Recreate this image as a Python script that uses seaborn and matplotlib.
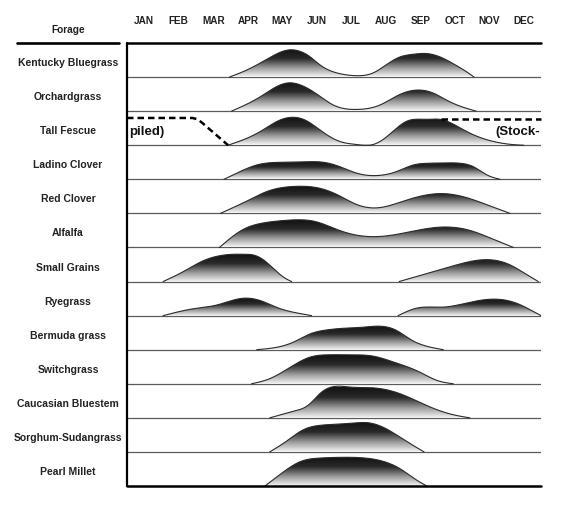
import numpy as np
import pandas as pd
import matplotlib
matplotlib.use("Agg")
import matplotlib.pyplot as plt
import seaborn as sns
from matplotlib.patches import Polygon
from matplotlib.colors import LinearSegmentedColormap
from matplotlib.lines import Line2D
from matplotlib.transforms import blended_transform_factory

# month labels, x = month index (0 = Jan 1, 12 = Dec 31)
months = ["JAN", "FEB", "MAR", "APR", "MAY", "JUN",
          "JUL", "AUG", "SEP", "OCT", "NOV", "DEC"]

forages = ["Kentucky Bluegrass", "Orchardgrass", "Tall Fescue", "Ladino Clover",
           "Red Clover", "Alfalfa", "Small Grains", "Ryegrass", "Bermuda grass",
           "Switchgrass", "Caucasian Bluestem", "Sorghum-Sudangrass", "Pearl Millet"]

# growth curves: month position, relative height in row
kentucky_x = [2.97, 3.5, 4.1, 4.72, 5.0, 5.3, 5.59, 6.17, 6.66, 7.13, 7.5, 7.91, 8.3, 8.69, 9.1, 9.46, 9.85, 10.06]
kentucky_h = [0, 0.22, 0.55, 0.80, 0.76, 0.60, 0.36, 0.10, 0.04, 0.12, 0.35, 0.59, 0.67, 0.69, 0.58, 0.39, 0.15, 0]

orchard_x = [3.03, 3.86, 4.3, 4.68, 5.05, 5.4, 5.98, 6.66, 7.33, 7.91, 8.44, 8.9, 9.27, 9.7, 10.12]
orchard_h = [0, 0.42, 0.70, 0.83, 0.76, 0.57, 0.18, 0.05, 0.18, 0.49, 0.62, 0.52, 0.32, 0.13, 0]

fescue_x = [2.93, 3.86, 4.35, 4.77, 5.2, 5.59, 6.17, 6.66, 7.13, 7.53, 8.1, 8.69, 9.07, 9.85, 10.62, 11.3, 11.5]
fescue_h = [0, 0.40, 0.70, 0.82, 0.72, 0.45, 0.11, 0.02, 0.02, 0.25, 0.70, 0.76, 0.76, 0.40, 0.11, 0.01, 0]

ladino_x = [2.81, 3.18, 3.76, 4.53, 5.1, 5.69, 6.17, 6.66, 7.24, 7.82, 8.3, 8.7, 9.2, 9.67, 10.04, 10.43, 10.81]
ladino_h = [0, 0.18, 0.42, 0.50, 0.51, 0.50, 0.37, 0.18, 0.11, 0.23, 0.42, 0.47, 0.48, 0.47, 0.37, 0.13, 0]

red_clover_x = [2.71, 3.57, 4.05, 4.82, 5.69, 6.17, 6.66, 7.33, 8.01, 9.17, 9.85, 10.52, 11.1]
red_clover_h = [0, 0.41, 0.64, 0.79, 0.71, 0.51, 0.26, 0.17, 0.36, 0.58, 0.46, 0.22, 0]

alfalfa_x = [2.68, 3.37, 3.9, 4.53, 5.5, 6.08, 6.66, 7.43, 8.4, 9.17, 9.94, 10.62, 11.2]
alfalfa_h = [0, 0.53, 0.71, 0.79, 0.75, 0.53, 0.36, 0.33, 0.50, 0.60, 0.50, 0.24, 0]

grains_spring_x = [1.05, 1.63, 2.21, 2.70, 3.08, 3.4, 3.66, 3.95, 4.34, 4.63, 4.77]
grains_spring_h = [0, 0.29, 0.61, 0.76, 0.80, 0.80, 0.78, 0.64, 0.29, 0.07, 0]
grains_fall_x = [7.89, 8.88, 9.56, 10.33, 11.1, 11.59, 11.92]
grains_fall_h = [0, 0.29, 0.49, 0.64, 0.49, 0.20, 0]

rye_spring_x = [1.05, 1.92, 2.6, 3.37, 3.95, 4.34, 4.82, 5.35]
rye_spring_h = [0, 0.20, 0.31, 0.51, 0.41, 0.24, 0.10, 0]
rye_fall_x = [7.86, 8.4, 9.17, 9.94, 10.52, 11.3, 11.78, 12.0]
rye_fall_h = [0, 0.22, 0.25, 0.39, 0.48, 0.36, 0.12, 0]

bermuda_x = [3.76, 4.34, 4.82, 5.3, 5.79, 6.3, 6.85, 7.33, 7.82, 8.2, 8.69, 9.17]
bermuda_h = [0, 0.07, 0.22, 0.46, 0.58, 0.63, 0.66, 0.69, 0.56, 0.31, 0.10, 0]

switch_x = [3.61, 4.14, 4.82, 5.3, 5.79, 6.45, 7.14, 7.72, 8.49, 8.98, 9.46]
switch_h = [0, 0.15, 0.54, 0.78, 0.85, 0.85, 0.81, 0.64, 0.34, 0.10, 0]

bluestem_x = [4.14, 4.82, 5.3, 5.59, 5.88, 6.5, 7.14, 7.91, 8.69, 9.46, 9.94]
bluestem_h = [0, 0.19, 0.41, 0.71, 0.89, 0.90, 0.88, 0.71, 0.36, 0.09, 0]

sorghum_x = [4.14, 4.63, 5.11, 5.59, 6.2, 6.75, 6.95, 7.53, 8.01, 8.61]
sorghum_h = [0, 0.32, 0.65, 0.78, 0.82, 0.86, 0.86, 0.67, 0.37, 0]

millet_x = [4.0, 4.53, 5.01, 5.59, 6.1, 6.56, 7.33, 7.91, 8.4, 8.69]
millet_h = [0, 0.41, 0.71, 0.82, 0.84, 0.84, 0.75, 0.51, 0.17, 0]

# tall fescue stockpiled period (dashed)
stock_left_x = [0, 1.9, 2.05, 2.2, 2.93]
stock_left_h = [0.80, 0.80, 0.76, 0.64, 0.0]
stock_right_x = [9.09, 12.0]
stock_right_h = [0.77, 0.77]

humps = [
    (0, kentucky_x, kentucky_h), (1, orchard_x, orchard_h), (2, fescue_x, fescue_h),
    (3, ladino_x, ladino_h), (4, red_clover_x, red_clover_h), (5, alfalfa_x, alfalfa_h),
    (6, grains_spring_x, grains_spring_h), (6, grains_fall_x, grains_fall_h),
    (7, rye_spring_x, rye_spring_h), (7, rye_fall_x, rye_fall_h),
    (8, bermuda_x, bermuda_h), (9, switch_x, switch_h), (10, bluestem_x, bluestem_h),
    (11, sorghum_x, sorghum_h), (12, millet_x, millet_h),
]


def smooth_curve(xk, yk, xs):
    # natural cubic spline through the read points, just for a smooth outline
    xk = np.asarray(xk, float)
    yk = np.asarray(yk, float)
    n = len(xk)
    h = np.diff(xk)
    A = np.zeros((n, n))
    rhs = np.zeros(n)
    A[0, 0] = A[-1, -1] = 1
    for i in range(1, n - 1):
        A[i, i - 1] = h[i - 1]
        A[i, i] = 2 * (h[i - 1] + h[i])
        A[i, i + 1] = h[i]
        rhs[i] = 6 * ((yk[i + 1] - yk[i]) / h[i] - (yk[i] - yk[i - 1]) / h[i - 1])
    M = np.linalg.solve(A, rhs)
    idx = np.clip(np.searchsorted(xk, xs) - 1, 0, n - 2)
    hi = h[idx]
    a = xk[idx + 1] - xs
    b = xs - xk[idx]
    return (M[idx] * a**3 / (6 * hi) + M[idx + 1] * b**3 / (6 * hi)
            + (yk[idx] / hi - M[idx] * hi / 6) * a
            + (yk[idx + 1] / hi - M[idx + 1] * hi / 6) * b)


sns.set_theme(style="white")
plt.rcParams["font.family"] = ["Liberation Sans", "DejaVu Sans"]

W, H = 583, 508
fig = plt.figure(figsize=(W / 100, H / 100), dpi=100)
fig.patch.set_facecolor("white")
ax = fig.add_axes([127 / W, 1 - 486 / H, (541 - 127) / W, (486 - 43) / H])
n_rows = len(forages)

gray_cmap = LinearSegmentedColormap.from_list("fade", ["#f6f6f6", "#9a9a9a", "#2a2a2a", "#121212"])
grad = np.linspace(0, 1, 256).reshape(-1, 1)

row_max = {}
for row, xk, hk in humps:
    row_max[row] = max(row_max.get(row, 0), max(hk))

outline = []
for seg, (row, xk, hk) in enumerate(humps):
    base = n_rows - 1 - row
    xs = np.linspace(xk[0], xk[-1], 300)
    ys = np.clip(smooth_curve(xk, hk, xs), 0, None) + base
    poly = Polygon(np.column_stack([np.r_[xs, xs[-1], xs[0]], np.r_[ys, base, base]]),
                   closed=True, facecolor="none", edgecolor="none")
    ax.add_patch(poly)
    im = ax.imshow(grad, cmap=gray_cmap, origin="lower", aspect="auto",
                   extent=[xk[0], xk[-1], base, base + row_max[row]],
                   interpolation="bilinear", zorder=2)
    im.set_clip_path(poly)
    outline.append(pd.DataFrame({"x": xs, "y": ys, "seg": seg}))

outline = pd.concat(outline, ignore_index=True)
sns.lineplot(data=outline, x="x", y="y", units="seg", estimator=None, sort=False,
             color="#2b2b2b", linewidth=0.8, ax=ax, legend=False, zorder=3)

# row separators
for r in range(1, n_rows):
    ax.axhline(r, xmin=0, xmax=1, color="#5a5a5a", linewidth=0.9, zorder=1)
ax.axhline(n_rows, color="black", linewidth=1.8, zorder=4, clip_on=False)
ax.axhline(0, color="black", linewidth=1.8, zorder=4, clip_on=False)
ax.axvline(0, color="black", linewidth=1.6, zorder=4, clip_on=False)

# stockpiled tall fescue
fescue_base = n_rows - 1 - 2
ax.plot(stock_left_x, np.array(stock_left_h) + fescue_base, color="black",
        linewidth=1.8, dashes=(2.6, 1.6), zorder=4, clip_on=False)
ax.plot(stock_right_x, np.array(stock_right_h) + fescue_base, color="black",
        linewidth=1.8, dashes=(2.6, 1.6), zorder=4, clip_on=False)
ax.text(0.05, fescue_base + 0.40, "piled)", ha="left", va="center",
        fontsize=9.5, fontweight="bold", color="#111111", zorder=5)
ax.text(11.98, fescue_base + 0.38, "(Stock-", ha="right", va="center",
        fontsize=9.5, fontweight="bold", color="#111111", zorder=5)

ax.set_xlim(0, 12)
ax.set_ylim(0, n_rows)
ax.set_xticks([])
ax.set_yticks([])
ax.set_xlabel("")
ax.set_ylabel("")
for s in ax.spines.values():
    s.set_visible(False)

for i, mname in enumerate(months):
    ax.text(i + 0.5, n_rows + 0.65, mname, ha="center", va="center",
            fontsize=7.2, fontweight="bold", color="#222222", clip_on=False)

trans = blended_transform_factory(fig.transFigure, ax.transData)
for row, name in enumerate(forages):
    base = n_rows - 1 - row
    ax.text(68 / W, base + 0.41, name, transform=trans, ha="center", va="center",
            fontsize=7.5, fontweight="bold", color="#222222", clip_on=False)

fig.text(68 / W, 1 - 30 / H, "Forage", ha="center", va="center",
         fontsize=7.3, fontweight="bold", color="#222222")
fig.add_artist(Line2D([17 / W, 119 / W], [1 - 42.5 / H, 1 - 42.5 / H],
                      color="black", linewidth=1.9, transform=fig.transFigure))

fig.savefig("out.png", dpi=100, facecolor="white")
